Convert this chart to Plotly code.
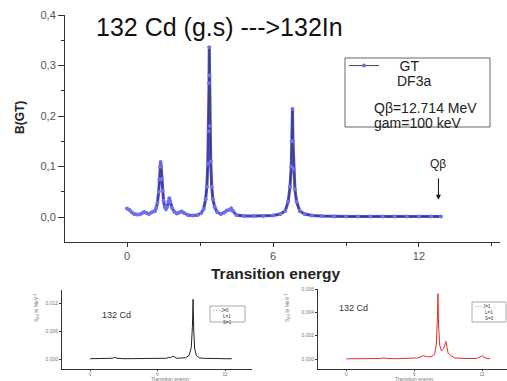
import plotly.graph_objects as go

W, H = 507, 381
def px(x): return x / W
def py(y): return 1 - y / H

# ---------------- data ----------------
gt_energy = [0.00,0.10,0.20,0.30,0.40,0.50,0.60,0.70,0.80,0.90,1.00,1.10,1.15,1.20,1.25,1.30,1.33,1.36,1.38,1.40,1.43,1.46,1.50,1.55,1.60,1.65,1.70,1.74,1.78,1.85,1.95,2.05,2.15,2.25,2.35,2.50,2.70,2.90,3.05,3.15,3.23,3.28,3.32,3.35,3.37,3.38,3.39,3.41,3.44,3.48,3.53,3.60,3.70,3.85,4.00,4.10,4.20,4.28,4.35,4.50,4.80,5.20,5.60,6.00,6.30,6.50,6.62,6.70,6.75,6.78,6.80,6.82,6.85,6.90,6.97,7.10,7.30,7.60,8.00,8.50,9.00,9.50,10.00,10.50,11.00,11.50,12.00,12.50,12.90]
gt_bgt = [0.017,0.014,0.009,0.006,0.005,0.005,0.007,0.010,0.008,0.006,0.009,0.011,0.012,0.018,0.028,0.050,0.075,0.100,0.109,0.100,0.075,0.052,0.032,0.020,0.016,0.020,0.030,0.037,0.030,0.018,0.010,0.007,0.009,0.011,0.008,0.004,0.003,0.004,0.008,0.016,0.035,0.060,0.105,0.170,0.265,0.336,0.280,0.180,0.110,0.060,0.035,0.020,0.010,0.006,0.009,0.013,0.014,0.017,0.012,0.004,0.002,0.002,0.002,0.003,0.006,0.012,0.030,0.060,0.100,0.150,0.214,0.150,0.095,0.055,0.030,0.012,0.006,0.003,0.002,0.001,0.001,0.001,0.001,0.001,0.001,0.001,0.001,0.001,0.001]

s0_energy = [0,0.5,1,1.5,2.0,2.2,2.4,3,4,5,6,6.8,7.0,7.15,7.3,7.5,7.7,8.0,8.5,8.8,9.0,9.1,9.16,9.22,9.3,9.45,9.7,10,11,12,12.6]
s0_val = [0.0001,0.0001,0.0001,0.0001,0.0002,0.0004,0.0002,0.0001,0.0001,0.0001,0.0001,0.0002,0.0004,0.0003,0.0006,0.0005,0.0002,0.0002,0.0003,0.0008,0.0025,0.0070,0.0128,0.0060,0.0022,0.0008,0.0003,0.0002,0.0001,0.0001,0.0001]

s1_energy = [0,1,2,3,3.3,3.6,4.5,5.5,6.3,6.6,6.8,7.1,7.5,7.8,7.95,8.05,8.1,8.15,8.25,8.4,8.5,8.6,8.7,8.8,8.9,9.0,9.2,9.6,10.5,11.5,11.9,12.0,12.1,12.4,12.7]
s1_val = [0.00002,0.00002,0.00003,0.00005,0.0001,0.00005,0.00003,0.00005,0.0001,0.0002,0.0003,0.0002,0.0002,0.0004,0.0012,0.0035,0.0056,0.0030,0.0012,0.0007,0.0008,0.0009,0.0012,0.0015,0.0010,0.0005,0.0003,0.0001,0.00005,0.00005,0.0002,0.0003,0.0002,0.00005,0.00003]

main_yticks = [0.0, 0.1, 0.2, 0.3, 0.4]
main_xticks = [0, 6, 12]
s0_yticks = [0.0, 0.006, 0.012]
s1_yticks = [0.0, 0.002, 0.004, 0.006]

BLUE = "#4646e6"
fig = go.Figure()

# thick blue band (dense markers look)
fig.add_trace(go.Scatter(x=gt_energy, y=gt_bgt, mode="lines",
                         line=dict(color=BLUE, width=3), showlegend=False,
                         hoverinfo="skip", xaxis="x", yaxis="y"))
fig.add_trace(go.Scatter(x=gt_energy, y=gt_bgt, mode="lines+markers", name="\u00a0\u00a0\u00a0\u00a0GT",
                         line=dict(color="#444444", width=1),
                         marker=dict(color="#7070f0", size=4, symbol="circle"),
                         xaxis="x", yaxis="y"))
fig.add_trace(go.Scatter(x=s0_energy, y=s0_val, mode="lines", showlegend=False,
                         line=dict(color="#222222", width=1), xaxis="x2", yaxis="y2"))
fig.add_trace(go.Scatter(x=s1_energy, y=s1_val, mode="lines", showlegend=False,
                         line=dict(color="#e03030", width=1), xaxis="x3", yaxis="y3"))

axis_common = dict(showgrid=False, zeroline=False, showline=True, linecolor="#333333",
                   linewidth=1, ticks="outside", tickcolor="#333333", automargin=False)

small_font = dict(family="Liberation Sans, Arial", size=5, color="#777777")

fig.update_layout(
    width=W, height=H,
    margin=dict(l=0, r=0, t=0, b=0),
    paper_bgcolor="white", plot_bgcolor="white",
    separators=",.",
    font=dict(family="Liberation Sans, Arial", color="#222222"),
    xaxis=dict(axis_common, domain=[px(65), px(500)], range=[-2.55, 15.33], anchor="y",
               tickvals=main_xticks, ticklen=4,
               tickfont=dict(size=11, color="#555555"),
               minor=dict(tickvals=[3, 9, 15], ticklen=3, ticks="outside", tickcolor="#333333")),
    yaxis=dict(axis_common, domain=[py(242), py(15)], range=[-0.0495, 0.4], anchor="x",
               tickvals=main_yticks, tickformat=".1f", ticklen=6,
               tickfont=dict(size=11, color="#555555"),
               minor=dict(tickvals=[0.05, 0.15, 0.25, 0.35], ticklen=3, ticks="outside", tickcolor="#333333")),
    xaxis2=dict(axis_common, domain=[px(62), px(252)], range=[-2.5, 14.4], anchor="y2",
                tickvals=main_xticks, ticklen=1, tickfont=dict(small_font, size=4.5)),
    yaxis2=dict(axis_common, domain=[py(369), py(290)], range=[-0.0021, 0.0148], anchor="x2",
                tickvals=s0_yticks, tickformat=".3f", ticklen=2, tickfont=small_font),
    xaxis3=dict(axis_common, domain=[px(318), px(507)], range=[-2.5, 14.2], anchor="y3",
                tickvals=main_xticks, ticklen=1, tickfont=dict(small_font, size=4.5)),
    yaxis3=dict(axis_common, domain=[py(369), py(289)], range=[-0.00085, 0.006], anchor="x3",
                tickvals=s1_yticks, tickformat=".3f", ticklen=2, tickfont=small_font),
    legend=dict(x=px(344), y=py(50), xanchor="left", yanchor="top",
                bgcolor="rgba(0,0,0,0)", font=dict(size=14, color="#222222"),
                itemwidth=30, tracegroupgap=0),
)

# Legend box of main chart
fig.add_shape(type="rect", xref="paper", yref="paper",
              x0=px(345), x1=px(490), y0=py(127), y1=py(58),
              line=dict(color="#666666", width=1))

annots = [
    dict(text="132 Cd (g.s) --->132In", x=px(94), y=py(27), xanchor="left", yanchor="middle",
         font=dict(size=25, color="#111111")),
    dict(text="DF3a", x=px(395), y=py(81), xanchor="left", yanchor="middle",
         font=dict(size=14, color="#222222")),
    dict(text="Qβ=12.714 MeV", x=px(372), y=py(108), xanchor="left", yanchor="middle",
         font=dict(size=14, color="#222222")),
    dict(text="gam=100 keV", x=px(372), y=py(123), xanchor="left", yanchor="middle",
         font=dict(size=14, color="#222222")),
    # axis titles (main)
    dict(text="<b>Transition energy</b>", x=px(276), y=py(273), xanchor="center", yanchor="middle",
         font=dict(size=15.5, color="#222222")),
    dict(text="<b>B(GT)</b>", x=px(20), y=py(118), xanchor="center", yanchor="middle",
         textangle=-90, font=dict(size=12, color="#222222")),
    # small plots labels
    dict(text="132 Cd", x=px(100), y=py(315), xanchor="left", yanchor="middle",
         font=dict(size=9, color="#333333")),
    dict(text="132 Cd", x=px(337), y=py(308), xanchor="left", yanchor="middle",
         font=dict(size=9, color="#333333")),
    dict(text="- - - J=0<br>        L=1<br>        S=1", x=px(211), y=py(306), xanchor="left", yanchor="top",
         align="left", font=dict(size=4.5, color="#333333")),
    dict(text="- - - J=1<br>        L=1<br>        S=0", x=px(473), y=py(302), xanchor="left", yanchor="top",
         align="left", font=dict(size=4.5, color="#333333")),
    dict(text="Transition energy", x=px(170), y=py(378.5), xanchor="center", yanchor="middle",
         font=small_font),
    dict(text="Transition energy", x=px(414), y=py(378.5), xanchor="center", yanchor="middle",
         font=small_font),
    dict(text="S<sub>ΔS</sub> in MeV<sup>-1</sup>", x=px(36), y=py(308), xanchor="center", yanchor="middle",
         textangle=-90, font=small_font),
    dict(text="S<sub>ΔS</sub> in MeV<sup>-1</sup>", x=px(287), y=py(308), xanchor="center", yanchor="middle",
         textangle=-90, font=small_font),
]
for a in annots:
    a.update(xref="paper", yref="paper", showarrow=False)
    fig.add_annotation(**a)

# small legend boxes
fig.add_shape(type="rect", xref="paper", yref="paper", x0=px(210), x1=px(245), y0=py(322), y1=py(306),
              line=dict(color="#888888", width=0.7))
fig.add_shape(type="rect", xref="paper", yref="paper", x0=px(472), x1=px(506), y0=py(322), y1=py(302),
              line=dict(color="#888888", width=0.7))

# Q-beta arrow
fig.add_annotation(x=12.8, y=0.105, xref="x", yref="y", text="Qβ", showarrow=False,
                   font=dict(size=12, color="#222222"))
fig.add_annotation(x=12.8, y=0.034, xref="x", yref="y", text="", showarrow=True,
                   ax=0, ay=-23, arrowhead=2, arrowsize=1, arrowwidth=1, arrowcolor="#111111")

fig.write_html("out.html", config={"displayModeBar": False},
               post_script="document.body.style.margin='0';document.body.style.padding='0';")
